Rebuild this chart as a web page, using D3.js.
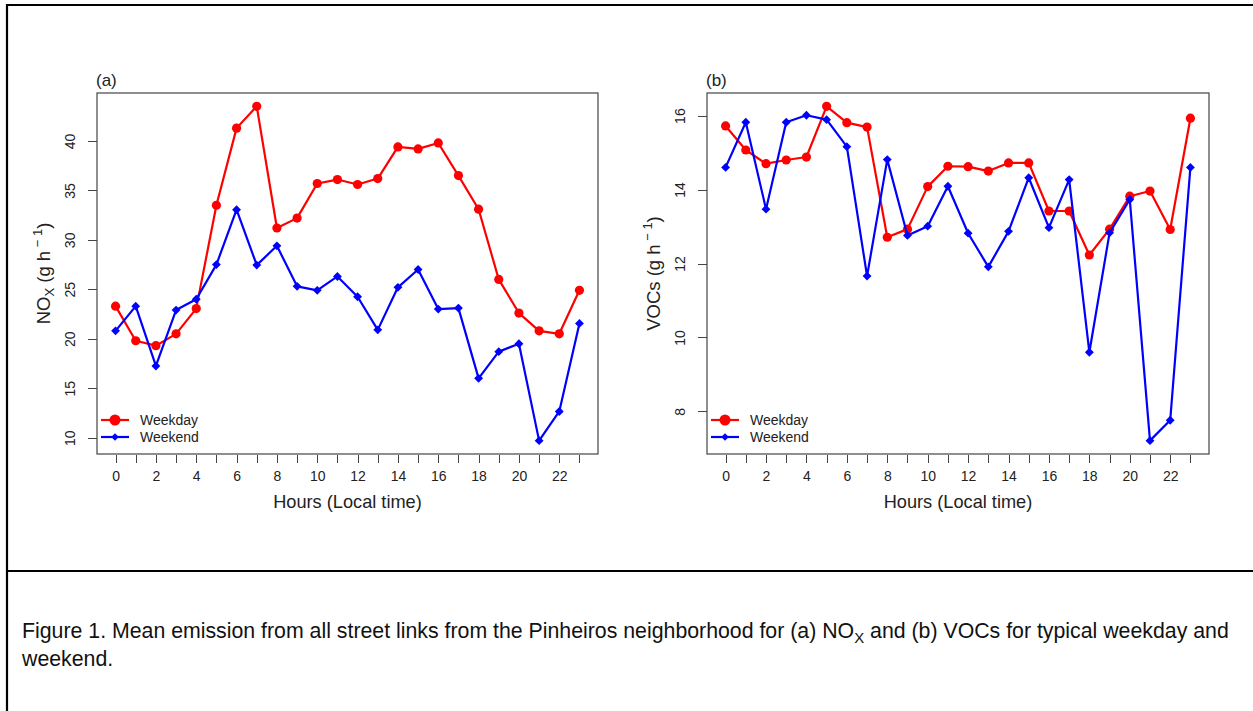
<!DOCTYPE html>
<html>
<head>
<meta charset="utf-8">
<script src="https://cdn.jsdelivr.net/npm/d3@7"></script>
<style>
  html, body { margin: 0; padding: 0; background: #fff; }
  svg { display: block; font-family: "Liberation Sans", Arial, Helvetica, sans-serif; }
</style>
</head>
<body>
<svg id="chart" width="1253" height="711"></svg>
<script>
// ---------------- data ----------------
const hours = d3.range(0, 24);
const xTickLabels = [0, 2, 4, 6, 8, 10, 12, 14, 16, 18, 20, 22];
const noxTicks = [10, 15, 20, 25, 30, 35, 40];
const vocTicks = [8, 10, 12, 14, 16];

const noxWeekday = [23.3, 19.8, 19.3, 20.5, 23.05, 33.5, 41.3, 43.5, 31.2, 32.2, 35.7, 36.1,
                    35.6, 36.2, 39.4, 39.2, 39.8, 36.5, 33.1, 26.0, 22.6, 20.8, 20.5, 24.9];
const noxWeekend = [20.8, 23.3, 17.25, 22.9, 24.0, 27.5, 33.05, 27.45, 29.4, 25.3, 24.9, 26.3,
                    24.25, 20.9, 25.2, 27.0, 23.0, 23.1, 16.0, 18.7, 19.5, 9.7, 12.65, 21.55];

const vocWeekday = [15.72, 15.07, 14.70, 14.80, 14.88, 16.25, 15.81, 15.69, 12.71, 12.93, 14.08, 14.63,
                    14.62, 14.50, 14.72, 14.72, 13.42, 13.42, 12.23, 12.93, 13.82, 13.96, 12.92, 15.93];
const vocWeekend = [14.60, 15.82, 13.47, 15.82, 16.01, 15.89, 15.16, 11.66, 14.81, 12.76, 13.01, 14.09,
                    12.82, 11.91, 12.87, 14.32, 12.97, 14.27, 9.60, 12.83, 13.73, 7.21, 7.76, 14.60];

const seriesNames = ["Weekday", "Weekend"];
const seriesColors = ["#ff0000", "#0000ff"];

const panelLabels = ["(a)", "(b)"];
const captionLines = [
  ["Figure 1. Mean emission from all street links from the Pinheiros neighborhood for (a) NO", "X",
   " and (b) VOCs for typical weekday and"],
  ["weekend."]
];

// ---------------- drawing ----------------
const svg = d3.select("#chart");

// outer frame (table-like)
svg.append("line").attr("x1", 6).attr("x2", 1253).attr("y1", 5).attr("y2", 5)
  .attr("stroke", "#000").attr("stroke-width", 2.2);
svg.append("line").attr("x1", 7).attr("x2", 7).attr("y1", 4).attr("y2", 711)
  .attr("stroke", "#000").attr("stroke-width", 2.2);
svg.append("line").attr("x1", 6).attr("x2", 1253).attr("y1", 571).attr("y2", 571)
  .attr("stroke", "#000").attr("stroke-width", 2.2);

function rPad(ext) { const d = (ext[1] - ext[0]) * 0.04; return [ext[0] - d, ext[1] + d]; }

function panel(opts) {
  const { left, right, top, bottom, weekday, weekend, yTicks, label, yTitle } = opts;
  const g = svg.append("g");
  const x = d3.scaleLinear().domain(rPad([0, 23])).range([left, right]);
  const yExt = d3.extent(weekday.concat(weekend));
  const y = d3.scaleLinear().domain(rPad(yExt)).range([bottom, top]);

  const ink = "#222";

  // x axis
  const xAxis = d3.axisBottom(x).tickValues(hours).tickSize(8).tickPadding(9)
    .tickFormat(d => xTickLabels.includes(d) ? d : "");
  const gx = g.append("g").attr("transform", `translate(0,${bottom + 0.5})`).call(xAxis);
  gx.select(".domain").remove();
  gx.selectAll("line").attr("stroke", "#444").attr("shape-rendering", "crispEdges");
  gx.selectAll("text").attr("fill", ink).attr("font-size", 14).attr("font-family", "Liberation Sans, Arial, sans-serif");

  // y axis
  const yAxis = d3.axisLeft(y).tickValues(yTicks).tickSize(9).tickPadding(0);
  const gy = g.append("g").attr("transform", `translate(${left - 0.5},0)`).call(yAxis);
  gy.select(".domain").remove();
  gy.selectAll("line").attr("stroke", "#444").attr("shape-rendering", "crispEdges");
  gy.selectAll("text")
    .attr("fill", ink).attr("font-size", 14).attr("font-family", "Liberation Sans, Arial, sans-serif")
    .attr("x", null).attr("dy", null)
    .attr("text-anchor", "middle")
    .attr("transform", "translate(-22,0) rotate(-90)");

  // box
  g.append("rect").attr("x", left).attr("y", top).attr("width", right - left).attr("height", bottom - top)
    .attr("fill", "none").attr("stroke", "#444").attr("stroke-width", 1.2);

  // panel label
  g.append("text").attr("x", left - 1).attr("y", top - 7).attr("font-size", 17).attr("fill", ink).text(label);

  // x title
  g.append("text").attr("x", (left + right) / 2).attr("y", bottom + 54).attr("text-anchor", "middle")
    .attr("font-size", 18.2).attr("fill", ink).text("Hours (Local time)");

  // y title
  const yt = g.append("text").attr("text-anchor", "middle").attr("font-size", 18.5).attr("fill", ink)
    .attr("transform", `translate(${left - 47},${(top + bottom) / 2}) rotate(-90)`);
  yTitle(yt);

  const line = d3.line().x((d, i) => x(i)).y(d => y(d));
  const diamond = d3.symbol().type(d3.symbolDiamond2).size(50);

  // weekday (red circles)
  g.append("path").datum(weekday).attr("d", line).attr("fill", "none")
    .attr("stroke", seriesColors[0]).attr("stroke-width", 2.2).attr("stroke-linejoin", "round");
  g.selectAll(".wd").data(weekday).enter().append("circle")
    .attr("cx", (d, i) => x(i)).attr("cy", d => y(d)).attr("r", 4.6).attr("fill", seriesColors[0]);

  // weekend (blue diamonds)
  g.append("path").datum(weekend).attr("d", line).attr("fill", "none")
    .attr("stroke", seriesColors[1]).attr("stroke-width", 2.2).attr("stroke-linejoin", "round");
  g.selectAll(".we").data(weekend).enter().append("path")
    .attr("d", diamond).attr("transform", (d, i) => `translate(${x(i)},${y(d)})`).attr("fill", seriesColors[1]);

  // legend
  const lg = g.append("g").attr("transform", `translate(${left + 4},${bottom - 34})`);
  seriesNames.forEach((name, k) => {
    const yy = k * 17;
    lg.append("line").attr("x1", 0).attr("x2", 28).attr("y1", yy).attr("y2", yy)
      .attr("stroke", seriesColors[k]).attr("stroke-width", 2.2);
    if (k === 0) lg.append("circle").attr("cx", 14).attr("cy", yy).attr("r", 5.5).attr("fill", seriesColors[k]);
    else lg.append("path").attr("d", d3.symbol().type(d3.symbolDiamond2).size(36)).attr("transform", `translate(14,${yy})`).attr("fill", seriesColors[k]);
    lg.append("text").attr("x", 39).attr("y", yy).attr("dy", "0.35em").attr("font-size", 14).attr("fill", ink).text(name);
  });
}

panel({
  left: 97, right: 598, top: 93, bottom: 454,
  weekday: noxWeekday, weekend: noxWeekend, yTicks: noxTicks, label: panelLabels[0],
  yTitle: t => {
    t.append("tspan").text("NO");
    t.append("tspan").attr("font-size", 13).attr("dy", 4).text("X");
    t.append("tspan").attr("dy", -4).text(" (g h");
    t.append("tspan").attr("font-size", 13).attr("dy", -8).text(" \u2212 1");
    t.append("tspan").attr("dy", 8).text(")");
  }
});

panel({
  left: 707, right: 1209, top: 93, bottom: 454,
  weekday: vocWeekday, weekend: vocWeekend, yTicks: vocTicks, label: panelLabels[1],
  yTitle: t => {
    t.append("tspan").text("VOCs (g h");
    t.append("tspan").attr("font-size", 13).attr("dy", -8).text(" \u2212 1");
    t.append("tspan").attr("dy", 8).text(")");
  }
});

// caption
const cap = svg.append("g").attr("font-size", 21.3).attr("fill", "#111");
captionLines.forEach((parts, li) => {
  const t = cap.append("text").attr("x", 22).attr("y", 638 + li * 28);
  parts.forEach((p, k) => {
    if (parts.length === 3 && k === 1) t.append("tspan").attr("font-size", 15).attr("dy", 5).text(p);
    else if (parts.length === 3 && k === 2) t.append("tspan").attr("dy", -5).text(p);
    else t.append("tspan").text(p);
  });
});
</script>
</body>
</html>
